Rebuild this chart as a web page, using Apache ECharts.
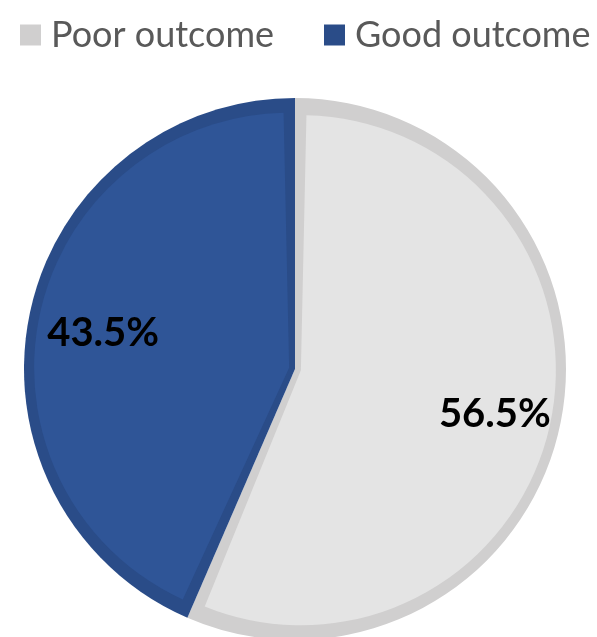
<!DOCTYPE html>
<html>
<head>
<meta charset="utf-8">
<script src="https://cdn.jsdelivr.net/npm/echarts@6/dist/echarts.min.js"></script>
<style>
  html, body { margin: 0; padding: 0; background: #fff; }
  #main { width: 597px; height: 637px; }
</style>
</head>
<body>
<div id="main"></div>
<script>
const categories = ['Poor outcome', 'Good outcome']
const values = [56.5, 43.5]
const fillColors = ['#e4e4e4', '#2f5597']
const edgeColors = ['#d0cfcf', '#2a4c88']

const center = [295, 369]
const R = 271
// each fill slice is nudged along its own bisector so the edge band shows
const inset = 6

function fillSeries(idx) {
  // bisector angle of slice idx (clockwise from 12 o'clock)
  const total = values.reduce((a, b) => a + b, 0)
  let start = 0
  for (let i = 0; i < idx; i++) start += values[i] / total * 360
  const mid = (start + values[idx] / total * 180) * Math.PI / 180
  return {
    type: 'pie',
    silent: true,
    center: [center[0] + inset * Math.sin(mid), center[1] - inset * Math.cos(mid)],
    radius: [0, R - 16],
    startAngle: 90,
    padAngle: 2.5,
    label: { show: false },
    labelLine: { show: false },
    data: categories.map((name, i) => ({
      name: name,
      value: values[i],
      itemStyle: { color: i === idx ? fillColors[i] : 'transparent' }
    }))
  }
}

const myChart = echarts.init(document.getElementById('main'))
const option = {
  animation: false,
  color: fillColors,
  legend: {
    data: categories,
    left: 15,
    top: 12,
    icon: 'rect',
    itemWidth: 21,
    itemHeight: 21,
    itemGap: 50,
    textStyle: {
      fontFamily: 'Lato',
      fontSize: 36,
      color: '#595959',
      padding: [0, 0, 0, 5]
    }
  },
  series: [
    {
      // outer band (slice edges)
      type: 'pie',
      silent: true,
      center: center,
      radius: [0, R],
      startAngle: 90,
      label: { show: false },
      labelLine: { show: false },
      data: categories.map((name, i) => ({
        name: name,
        value: values[i],
        itemStyle: { color: edgeColors[i] }
      }))
    },
    fillSeries(0),
    fillSeries(1),
    {
      // percentage labels
      type: 'pie',
      silent: true,
      center: [299, 374],
      radius: [156, 238],
      startAngle: 90,
      itemStyle: { color: 'transparent' },
      label: {
        show: true,
        position: 'inside',
        formatter: p => p.value.toFixed(1) + '%',
        fontFamily: 'Lato',
        fontWeight: 'bold',
        fontSize: 40,
        color: '#000'
      },
      labelLine: { show: false },
      data: categories.map((name, i) => ({ name: name, value: values[i] }))
    }
  ]
}
myChart.setOption(option)
</script>
</body>
</html>
